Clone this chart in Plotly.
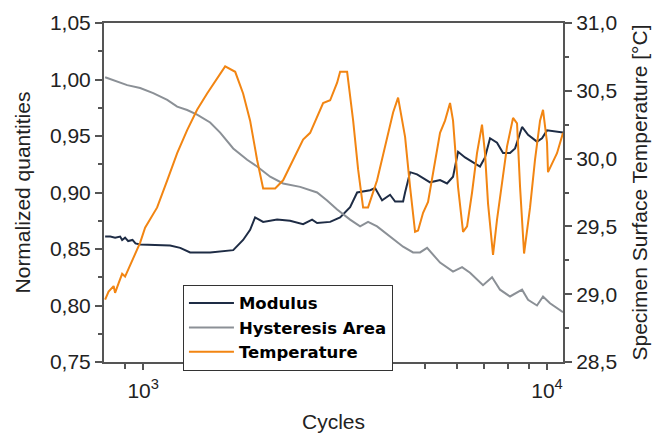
import plotly.graph_objects as go

# Cycle counts and normalized quantities (left axis)
cycles_mod = [805, 829, 852, 877, 887, 902, 918, 941, 957, 983,
              1166, 1235, 1307, 1465, 1671, 1768, 1840, 1893, 1982, 2146,
              2311, 2489, 2620, 2696, 2904, 3074, 3254, 3387, 3647, 3752,
              3905, 4087, 4206, 4402, 4452, 4581, 4767, 4933, 5133, 5434,
              5655, 5852, 6022, 6266, 6522, 6825, 7022, 7226, 7520, 7782,
              8099, 8334, 8674, 8976, 9445, 9719, 10000, 10587, 10955]
modulus = [0.861, 0.861, 0.860, 0.861, 0.858, 0.860, 0.857, 0.858, 0.855, 0.854,
           0.853, 0.851, 0.847, 0.847, 0.849, 0.858, 0.867, 0.878, 0.874, 0.876,
           0.875, 0.872, 0.876, 0.873, 0.874, 0.878, 0.887, 0.900, 0.902, 0.904,
           0.893, 0.898, 0.892, 0.892, 0.900, 0.918, 0.916, 0.913, 0.909, 0.911,
           0.908, 0.914, 0.936, 0.931, 0.927, 0.923, 0.931, 0.948, 0.944, 0.935,
           0.935, 0.939, 0.958, 0.951, 0.945, 0.948, 0.955, 0.954, 0.953]

cycles_hyst = [805, 843, 913, 983, 1059, 1147, 1214, 1285, 1360, 1465,
               1551, 1671, 1809, 1915, 2063, 2221, 2447, 2696, 2854, 3022,
               3254, 3445, 3605, 3795, 4087, 4402, 4659, 4849, 5047, 5434,
               5852, 6161, 6448, 6943, 7310, 7650, 8099, 8674, 8976, 9445,
               9775, 10172, 10955]
hysteresis = [1.002, 0.9996, 0.995, 0.9925, 0.988, 0.982, 0.976, 0.973, 0.969, 0.962,
              0.953, 0.939, 0.929, 0.923, 0.914, 0.908, 0.905, 0.900, 0.893, 0.885,
              0.876, 0.870, 0.874, 0.870, 0.861, 0.852, 0.847, 0.847, 0.851, 0.838,
              0.830, 0.834, 0.829, 0.818, 0.825, 0.814, 0.808, 0.814, 0.805, 0.800,
              0.808, 0.802, 0.794]

# Specimen surface temperature in degC (right axis)
cycles_temp = [805, 821, 845, 852, 869, 887, 902, 929, 957, 983,
               1011, 1083, 1147, 1214, 1285, 1360, 1440, 1525, 1596, 1690,
               1768, 1840, 1915, 1982, 2122, 2221, 2351, 2489, 2591, 2696,
               2790, 2904, 3022, 3074, 3199, 3311, 3406, 3504, 3605, 3795,
               4018, 4158, 4278, 4452, 4581, 4713, 4794, 4933, 5075, 5222,
               5434, 5591, 5753, 5852, 6022, 6196, 6339, 6522, 6709, 6903,
               7022, 7144, 7351, 7520, 7738, 7962, 8239, 8429, 8576, 8774,
               9079, 9338, 9610, 9775, 10000, 10057, 10587, 10955]
temperature = [28.96, 29.02, 29.06, 29.01, 29.08, 29.15, 29.13, 29.22, 29.30, 29.38,
               29.49, 29.64, 29.84, 30.04, 30.21, 30.36, 30.48, 30.59, 30.68, 30.64,
               30.48, 30.28, 29.99, 29.78, 29.78, 29.84, 29.99, 30.14, 30.19, 30.31,
               30.41, 30.43, 30.56, 30.64, 30.64, 30.28, 29.92, 29.64, 29.64, 29.84,
               30.14, 30.34, 30.45, 30.16, 29.79, 29.46, 29.47, 29.60, 29.68, 29.89,
               30.19, 30.28, 30.41, 30.28, 29.79, 29.46, 29.50, 29.75, 30.04, 30.25,
               30.04, 29.67, 29.29, 29.55, 29.84, 30.09, 30.30, 30.26, 29.79, 29.30,
               29.64, 29.99, 30.28, 30.36, 30.12, 29.90, 30.04, 30.19]

x_major = [1000, 10000]
x_major_text = ["10<sup>3</sup>", "10<sup>4</sup>"]
x_minor = [900, 2000, 3000, 4000, 5000, 6000, 7000, 8000, 9000]

FONT = "Liberation Sans, Arial, sans-serif"
LEGEND_FONT = "DejaVu Sans, sans-serif"
AXIS = "#555555"

fig = go.Figure()
fig.add_trace(go.Scatter(x=cycles_mod, y=modulus, name="Modulus", mode="lines",
                         line=dict(color="#1e2c45", width=2)))
fig.add_trace(go.Scatter(x=cycles_hyst, y=hysteresis, name="Hysteresis Area", mode="lines",
                         line=dict(color="#8b9096", width=2)))
fig.add_trace(go.Scatter(x=cycles_temp, y=temperature, name="Temperature", mode="lines",
                         line=dict(color="#f28512", width=2), yaxis="y2"))

fig.update_layout(
    width=654, height=435, autosize=False,
    margin=dict(l=104, r=91, t=23, b=73),
    paper_bgcolor="white", plot_bgcolor="white",
    separators=", ",
    font=dict(family=FONT, size=21, color="#222222"),
    xaxis=dict(
        type="log", range=[2.903, 4.0396], automargin=False,
        tickmode="array", tickvals=x_major, ticktext=x_major_text,
        ticks="outside", ticklen=6, tickwidth=1.5, tickcolor=AXIS,
        ticklabelstandoff=3,
        minor=dict(tickmode="array", tickvals=x_minor, ticks="outside",
                   ticklen=5, tickwidth=1.5, tickcolor=AXIS),
        showline=True, linecolor=AXIS, linewidth=2, mirror=True,
        showgrid=False, zeroline=False,
        title=dict(text="Cycles", font=dict(size=21), standoff=13),
    ),
    yaxis=dict(
        range=[0.75, 1.05], dtick=0.05, tick0=0.75, tickformat=".2f",
        automargin=False,
        ticks="outside", ticklen=7, tickwidth=1.5, tickcolor=AXIS,
        minor=dict(dtick=0.025, ticks="outside", ticklen=4, tickcolor=AXIS),
        showline=True, linecolor=AXIS, linewidth=2,
        showgrid=False, zeroline=False,
        title=dict(text="Normalized quantities", font=dict(size=21), standoff=14),
    ),
    yaxis2=dict(
        overlaying="y", side="right", automargin=False,
        range=[28.5, 31.0], dtick=0.5, tick0=28.5, tickformat=".1f",
        ticks="outside", ticklen=7, tickwidth=1.5, tickcolor=AXIS,
        minor=dict(dtick=0.25, ticks="outside", ticklen=4, tickcolor=AXIS),
        showline=True, linecolor=AXIS, linewidth=2,
        showgrid=False, zeroline=False,
        title=dict(text="Specimen Surface Temperature [°C]", font=dict(size=21), standoff=16),
    ),
    legend=dict(
        x=0.172, y=0.228, xanchor="left", yanchor="top",
        bgcolor="white", bordercolor="#333333", borderwidth=1,
        font=dict(family=LEGEND_FONT, size=16.5, color="black", weight="bold"),
        tracegroupgap=0, itemwidth=45,
    ),
)

fig.write_html("out.html")
